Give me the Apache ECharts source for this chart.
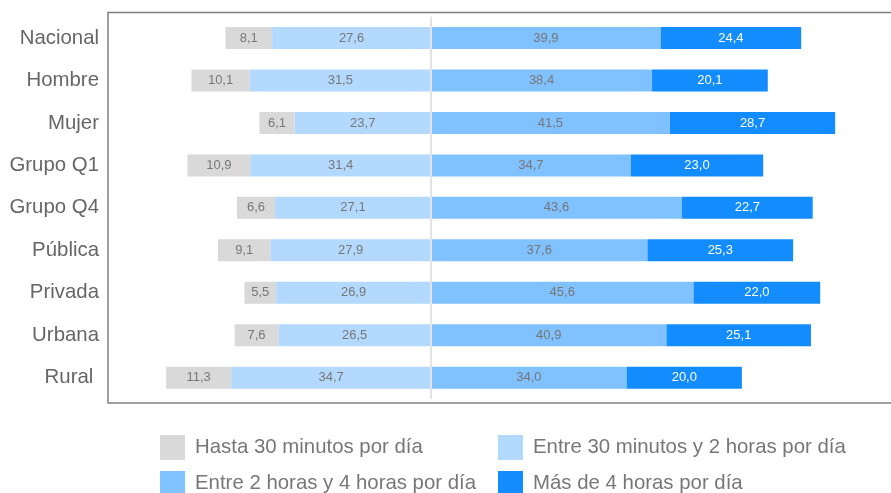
<!DOCTYPE html>
<html>
<head>
<meta charset="utf-8">
<script src="https://cdn.jsdelivr.net/npm/echarts@6/dist/echarts.min.js"></script>
<style>html,body{margin:0;padding:0;background:#fff;}#c{width:891px;height:493px;}</style>
</head>
<body>
<div id="c"></div>
<script>
const categories = ['Nacional','Hombre','Mujer','Grupo Q1','Grupo Q4','Pública','Privada','Urbana','Rural '];
const hasta30 = [8.1,10.1,6.1,10.9,6.6,9.1,5.5,7.6,11.3];
const entre30a2 = [27.6,31.5,23.7,31.4,27.1,27.9,26.9,26.5,34.7];
const entre2a4 = [39.9,38.4,41.5,34.7,43.6,37.6,45.6,40.9,34.0];
const mas4 = [24.4,20.1,28.7,23.0,22.7,25.3,22.0,25.1,20.0];
const seriesNames = ['Hasta 30 minutos por día','Entre 30 minutos y 2 horas por día','Entre 2 horas y 4 horas por día','Más de 4 horas por día'];
const colors = ['#d9d9d9','#b3d9ff','#80c1ff','#138cff'];

const FONT = "'Liberation Sans', Arial, Helvetica, sans-serif";
const fmt = p => Math.abs(p.value).toFixed(1).replace('.', ',');
function barSeries(name, color, data, labelColor, extra) {
  return Object.assign({
    name: name, type: 'bar', stack: 'total', barWidth: 22,
    itemStyle: { color: color },
    label: { show: true, position: 'inside', formatter: fmt, color: labelColor, fontSize: 13, fontFamily: FONT },
    emphasis: { disabled: true },
    data: data
  }, extra || {});
}
function legendAt(i, left, top) {
  return {
    data: [seriesNames[i]], left: left, top: top, orient: 'horizontal',
    icon: 'rect', itemWidth: 25, itemHeight: 25, padding: 0, itemGap: 0,
    textStyle: { fontSize: 20.4, color: '#777', fontFamily: FONT, padding: [0,0,0,5] }
  };
}
const chart = echarts.init(document.getElementById('c'), null, { renderer: 'canvas' });
chart.setOption({
  animation: false,
  color: colors,
  grid: { left: 108, top: 16.8, width: 787, height: 382.1, containLabel: false },
  xAxis: { type: 'value', min: -56.1, max: 79.9, show: false },
  yAxis: {
    type: 'category', data: categories, inverse: true,
    axisLine: { show: false }, axisTick: { show: false },
    axisLabel: { color: '#666', fontSize: 20.4, fontFamily: FONT, margin: 9 }
  },
  legend: [
    legendAt(0, 160, 435), legendAt(1, 498, 435),
    legendAt(2, 160, 471), legendAt(3, 498, 471)
  ],
  graphic: [{
    type: 'rect', z: 100, silent: true,
    shape: { x: 108, y: 12.5, width: 800, height: 390.5 },
    style: { fill: 'none', stroke: '#808080', lineWidth: 1.5 }
  }],
  series: [
    barSeries(seriesNames[1], colors[1], entre30a2.map(v => -v), '#777'),
    barSeries(seriesNames[0], colors[0], hasta30.map(v => -v), '#777'),
    barSeries(seriesNames[2], colors[2], entre2a4, '#777'),
    barSeries(seriesNames[3], colors[3], mas4, '#fff', {
      markLine: {
        silent: true, symbol: 'none', label: { show: false },
        lineStyle: { color: '#e3e3e3', width: 2, type: 'solid' },
        data: [{ xAxis: 0 }]
      }
    })
  ]
});
</script>
</body>
</html>
